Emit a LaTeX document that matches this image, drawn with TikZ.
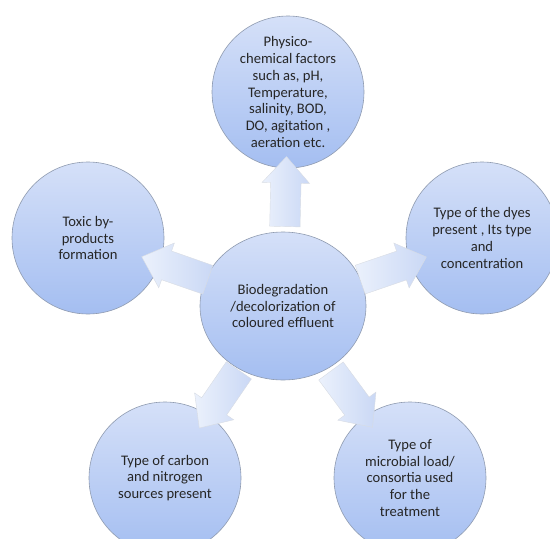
\documentclass[tikz,border=0pt]{standalone}
\usepackage{fontspec}
\setmainfont{Carlito}
\usetikzlibrary{shapes.arrows,shapes.geometric}
\usetikzlibrary{positioning}
\definecolor{bubbletop}{HTML}{D5E0F8}
\definecolor{bubblebot}{HTML}{A4BEF1}
\definecolor{bubbleline}{HTML}{8F9BB0}
\definecolor{arrowbase}{HTML}{EBF1FC}
\definecolor{arrowtip}{HTML}{CAD8F5}
\definecolor{labeltext}{HTML}{262626}
\tikzstyle{bubble}=[circle,draw=bubbleline,line width=0.6pt,top color=bubbletop,bottom color=bubblebot,minimum size=152pt,inner sep=0pt,align=center,font=\fontsize{14.6}{16.7}\selectfont,text=labeltext]
\tikzstyle{hubbubble}=[bubble,ellipse,minimum width=166pt,minimum height=148pt]
\tikzstyle{blockarrow}=[single arrow,draw=bubbleline!35,line width=0.4pt,left color=arrowbase,right color=arrowtip,minimum height=70pt,inner xsep=0pt,inner ysep=15pt,single arrow head extend=8.5pt,single arrow tip angle=84,sloped,allow upside down,pos=0.5]

\begin{document}
\begin{tikzpicture}[x=1pt,y=-1pt]
\useasboundingbox (0,0) rectangle (550,539);

%centre
\node[hubbubble] (hub) at (283,306) {Biodegradation\\/decolorization of\\coloured effluent};

%outer bubbles
\foreach \pos/\name/\label in {{(288,92)/phys/{Physico-\\chemical factors\\such as, pH,\\Temperature,\\salinity, BOD,\\DO, agitation ,\\aeration etc.}},
    {(482,238)/dyes/{Type of the dyes\\present , Its type\\and\\concentration}},
    {(410,478)/microbe/{Type of\\microbial load/\\consortia used\\for the\\treatment}},
    {(165,478)/carbon/{Type of carbon\\and nitrogen\\sources present}},
    {(88,238)/toxic/{Toxic by-\\products\\formation}}}
    \node[bubble] (\name) at \pos {\label};

%block arrows
\foreach \dest in {phys,dyes,microbe,carbon,toxic}
    \path (hub) -- node[blockarrow] (arr-\dest) {} (\dest);

\end{tikzpicture}
\end{document}
